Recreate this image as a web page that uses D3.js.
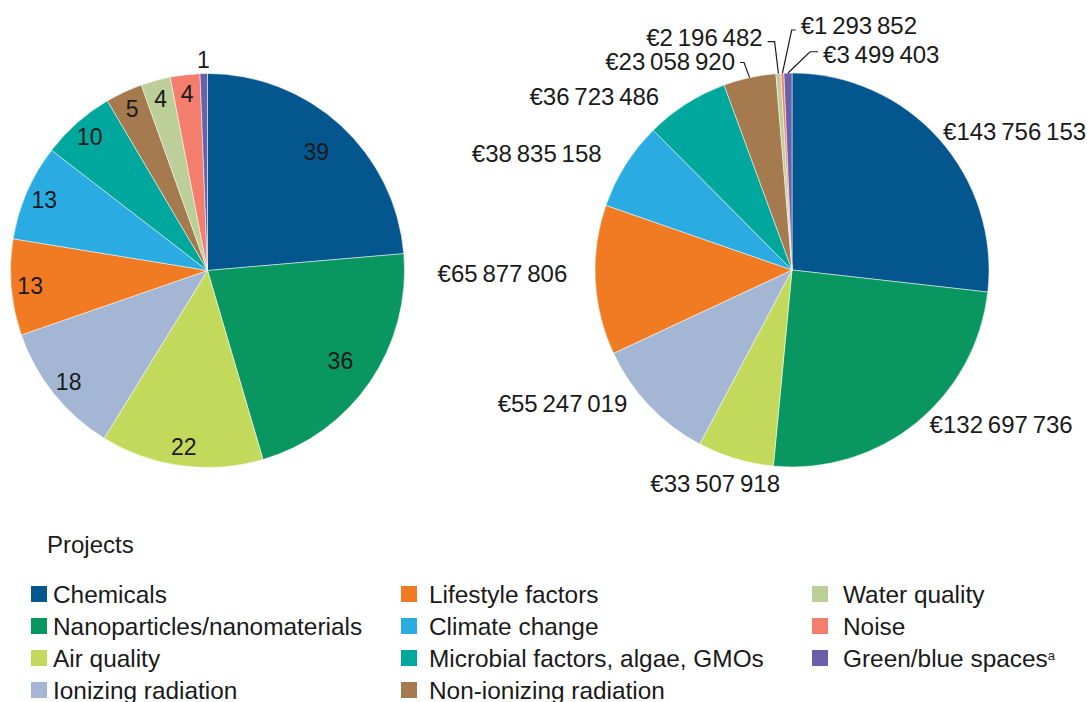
<!DOCTYPE html>
<html>
<head>
<meta charset="utf-8">
<script src="https://cdn.jsdelivr.net/npm/d3@7"></script>
<style>
  body { margin: 0; background: #fff; }
  text { font-family: "Liberation Sans", Arial, Helvetica, sans-serif; fill: #1a1a1a; }
</style>
</head>
<body>
<svg></svg>
<script>
let categories = ['Chemicals', 'Nanoparticles/nanomaterials', 'Air quality', 'Ionizing radiation',
                  'Lifestyle factors', 'Climate change', 'Microbial factors, algae, GMOs',
                  'Non-ionizing radiation', 'Water quality', 'Noise', 'Green/blue spaces']
let projectCounts = [39, 36, 22, 18, 13, 13, 10, 5, 4, 4, 1]
let funding = [143756153, 132697736, 33507918, 55247019, 65877806, 38835158,
               36723486, 23058920, 2196482, 1293852, 3499403]
let colors = ['#04568f', '#0a9660', '#c2d95c', '#a3b7d5', '#f07b22', '#2aabe2',
              '#00a79c', '#a57a4f', '#bccf98', '#f47e6d', '#6a60aa']

let width = 1087
let height = 702
let radius = 197

let svg = d3.select('svg')
            .attr('width', width)
            .attr('height', height)

let euro = d3.formatLocale({decimal: '.', thousands: '\u2009', grouping: [3], currency: ['€', '']})
let fmt = euro.format('$,')

let pie = d3.pie().sort(null).value((d) => d)
let arc = d3.arc().innerRadius(0).outerRadius(radius)

let polar = (angle, r) => [Math.sin(angle) * r, -Math.cos(angle) * r]

// left pie : number of projects
let drawLeft = () => {
    let g = svg.append('g').attr('transform', 'translate(207.5, 270.5)')
    let arcs = pie(projectCounts)
    g.selectAll('path')
     .data(arcs)
     .enter()
     .append('path')
     .attr('d', arc)
     .attr('fill', (d, i) => colors[i])
     .attr('stroke', '#fff')
     .attr('stroke-width', 0.5)

    g.selectAll('text.val')
     .data(arcs)
     .enter()
     .append('text')
     .attr('class', 'val')
     .attr('text-anchor', 'middle')
     .attr('dy', '0.35em')
     .style('font-size', '23px')
     .attr('transform', (d) => {
        let a = (d.startAngle + d.endAngle) / 2
        let r = d.value > 30 ? 161 : (d.value < 2 ? 211 : 178)
        return 'translate(' + polar(a, r) + ')'
     })
     .text((d) => d.value)
}

// right pie : funding, small slices get leader lines
let leaders = {
    7: {da: -0.6, r: 213, hx: -4, ty: -1},
    8: {da: -0.4, r: 229, hx: -7, ty: -4},
    9: {da: 2.7, r: 240, hx: 4, ty: -4},
    10: {da: 5.9, r: 219, hx: 8, ty: 3}
}
// small shifts of the outside labels, pixels
let nudges = [[-7, 3], [4, -10], [-16, 11], [-11, -12], [-13, -7], [-11, -3], [-19, 5]]

let drawRight = () => {
    let g = svg.append('g').attr('transform', 'translate(792, 270)')
    let arcs = pie(funding)
    g.selectAll('path')
     .data(arcs)
     .enter()
     .append('path')
     .attr('d', arc)
     .attr('fill', (d, i) => colors[i])
     .attr('stroke', '#fff')
     .attr('stroke-width', 0.5)

    arcs.forEach((d, i) => {
        let a = (d.startAngle + d.endAngle) / 2
        let lead = leaders[i]
        if (lead) {
            let p0 = polar(a, radius)
            let p1 = polar(a + lead.da * Math.PI / 180, lead.r)
            let p2 = [p1[0] + lead.hx, p1[1]]
            g.append('polyline')
             .attr('points', [p0, p1, p2].map((p) => p.join(',')).join(' '))
             .attr('fill', 'none')
             .attr('stroke', '#1a1a1a')
             .attr('stroke-width', 1.2)
            g.append('text')
             .attr('x', p2[0] + (lead.hx < 0 ? -5 : 5))
             .attr('y', p2[1] + lead.ty)
             .attr('dy', '0.35em')
             .attr('text-anchor', lead.hx < 0 ? 'end' : 'start')
             .style('font-size', '24px')
             .text(fmt(d.value))
        } else {
            let p = polar(a, 212)
            let s = Math.sin(a)
            let n = nudges[i]
            g.append('text')
             .attr('x', p[0] + n[0])
             .attr('y', p[1] + n[1])
             .attr('dy', '0.35em')
             .attr('text-anchor', s > 0.3 ? 'start' : (s < -0.3 ? 'end' : 'middle'))
             .style('font-size', '24px')
             .text(fmt(d.value))
        }
    })
}

let drawLegend = () => {
    svg.append('text')
       .attr('x', 47)
       .attr('y', 553)
       .style('font-size', '24px')
       .text('Projects')

    let swatchX = [31, 401, 812]
    let textX = [53, 429, 843]
    let items = svg.selectAll('g.item')
                   .data(categories)
                   .enter()
                   .append('g')
                   .attr('class', 'item')
                   .attr('transform', (d, i) => 'translate(0, ' + (594 + (i % 4) * 32) + ')')
    items.append('rect')
         .attr('x', (d, i) => swatchX[Math.floor(i / 4)])
         .attr('y', -8)
         .attr('width', 16)
         .attr('height', 16)
         .attr('fill', (d, i) => colors[i])
    let t = items.append('text')
                 .attr('x', (d, i) => textX[Math.floor(i / 4)])
                 .attr('dy', '0.36em')
                 .style('font-size', '24.4px')
                 .text((d) => d)
    t.filter((d, i) => i === 10)
     .append('tspan')
     .attr('dy', '-0.55em')
     .style('font-size', '13px')
     .text('a')
}

drawLeft()
drawRight()
drawLegend()
</script>
</body>
</html>
